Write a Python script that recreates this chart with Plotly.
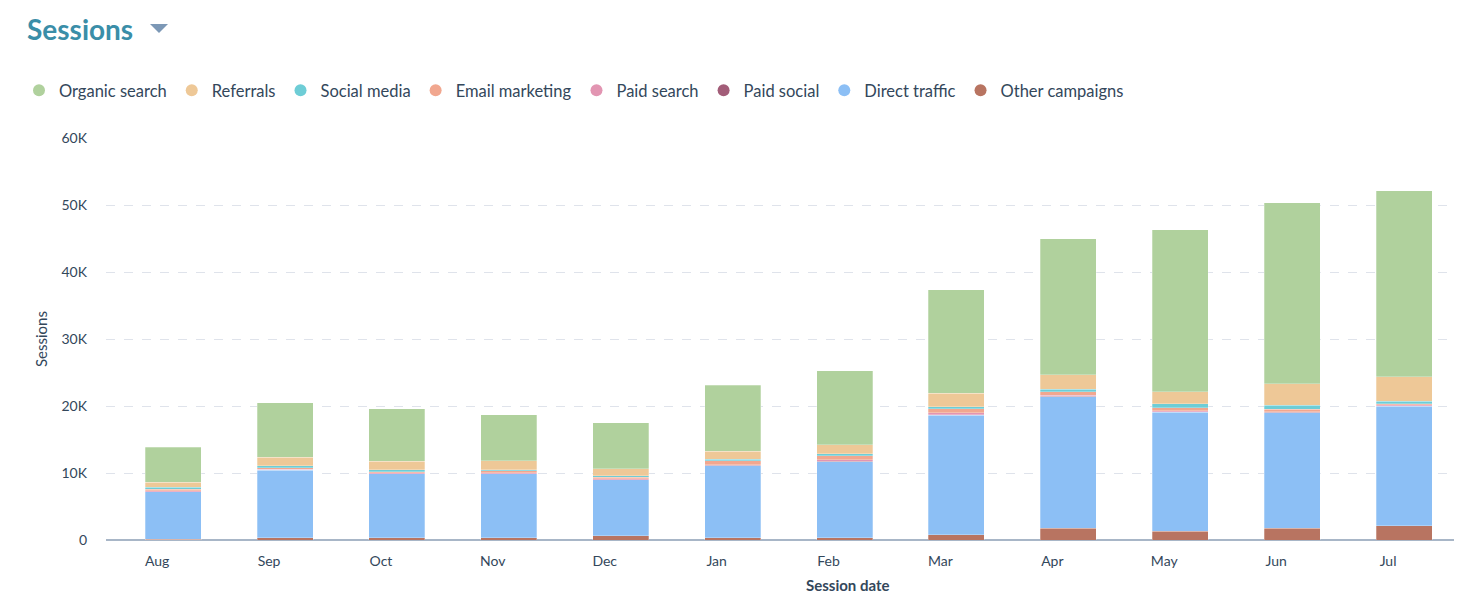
import plotly.graph_objects as go

months = ["Aug", "Sep", "Oct", "Nov", "Dec", "Jan", "Feb", "Mar", "Apr", "May", "Jun", "Jul"]

organic = [5220, 8100, 7800, 6870, 6870, 9850, 11040, 15420, 20300, 24220, 27010, 27800]
referrals = [750, 1250, 1250, 1300, 1045, 1200, 1300, 2040, 2190, 1790, 3240, 3640]
social_media = [250, 340, 340, 150, 200, 250, 340, 340, 340, 550, 540, 340]
email_marketing = [250, 200, 150, 300, 250, 600, 600, 600, 550, 450, 400, 200]
paid_search = [150, 100, 100, 150, 100, 100, 250, 250, 150, 200, 100, 150]
paid_social = [30, 30, 30, 30, 30, 40, 40, 60, 60, 60, 50, 50]
direct_traffic = [7060, 10100, 9550, 9550, 8400, 10750, 11340, 17900, 19640, 17760, 17250, 17820]
other_campaigns = [120, 340, 340, 340, 600, 340, 340, 750, 1750, 1300, 1750, 2140]

y_tickvals = [0, 10000, 20000, 30000, 40000, 50000, 60000]
y_ticktext = ["0", "10K", "20K", "30K", "40K", "50K", "60K"]

# bottom-to-top stacking order
series = [
    ("Other campaigns", other_campaigns, "#b87461"),
    ("Direct traffic", direct_traffic, "#8cbff5"),
    ("Paid social", paid_social, "#a25d78"),
    ("Paid search", paid_search, "#e295b2"),
    ("Email marketing", email_marketing, "#f1a78f"),
    ("Social media", social_media, "#6ecdd6"),
    ("Referrals", referrals, "#eec897"),
    ("Organic search", organic, "#b0d19d"),
]

FONT = "Lato, 'Open Sans', sans-serif"
TEXT = "#33475b"

OFF = 8  # page body margin
W, H = 1462 - OFF, 604 - OFF
L, R, T, B = 106 - OFF, 2, 138 - OFF, 64
PW, PH = W - L - R, H - T - B


def px(x):
    return (x - OFF - L) / PW


def py(y):
    return (H - B - (y - OFF)) / PH


fig = go.Figure()
for name, vals, color in series:
    fig.add_trace(go.Bar(
        x=months, y=vals, name=name, showlegend=False,
        marker=dict(color=color, line=dict(color="rgba(255,255,255,0.45)", width=0.6)),
        width=0.5,
    ))
# legend entries with circle markers
for name, vals, color in series:
    fig.add_trace(go.Scatter(
        x=[None], y=[None], mode="markers", name=name,
        marker=dict(symbol="circle", size=11, color=color),
    ))

fig.update_layout(
    width=W, height=H,
    barmode="stack",
    paper_bgcolor="white", plot_bgcolor="white",
    margin=dict(l=L, r=R, t=T, b=B, autoexpand=False),
    font=dict(family=FONT, color=TEXT, size=14),
    showlegend=True,
    legend=dict(
        orientation="h", traceorder="reversed",
        xref="container", yref="container",
        x=11 / W, y=1 - 65 / H, xanchor="left", yanchor="top",
        font=dict(size=16.5, color=TEXT), itemsizing="constant",
        tracegroupgap=0,
    ),
    xaxis=dict(
        type="category", range=[-0.6, 11.5],
        showgrid=False, zeroline=False, showline=False,
        ticks="", ticklabelshift=-16, ticklabelstandoff=11,
        tickfont=dict(size=14, color=TEXT),
        fixedrange=True,
    ),
    yaxis=dict(
        range=[0, 60000], tickvals=y_tickvals, ticktext=y_ticktext,
        showgrid=True, gridcolor="#dfe3eb", griddash="dash", gridwidth=1,
        zeroline=True, zerolinecolor="#a8b6c7", zerolinewidth=2,
        showline=False, ticks="", ticklabelstandoff=18,
        tickfont=dict(size=14, color=TEXT),
        fixedrange=True,
    ),
    annotations=[
        dict(text="Sessions", xref="paper", yref="paper", x=px(41), y=py(339),
             textangle=-90, showarrow=False, font=dict(size=15, color=TEXT),
             xanchor="center", yanchor="middle"),
        dict(text="<b>Session date</b>", xref="paper", yref="paper", x=px(847),
             y=py(585), showarrow=False, font=dict(size=15, color=TEXT),
             xanchor="center", yanchor="middle"),
        dict(text="<b>Sessions</b>", xref="paper", yref="paper", x=px(25),
             y=py(29), showarrow=False, xanchor="left", yanchor="middle",
             font=dict(size=28, color="#3a8ea8", family=FONT)),
    ],
    shapes=[
        dict(type="path", xref="paper", yref="paper",
             path=f"M {px(150)},{py(24)} L {px(168)},{py(24)} L {px(159)},{py(33)} Z",
             fillcolor="#7c98b6", line=dict(width=0)),
    ],
)

fig.write_html("out.html", config={"displayModeBar": False})
